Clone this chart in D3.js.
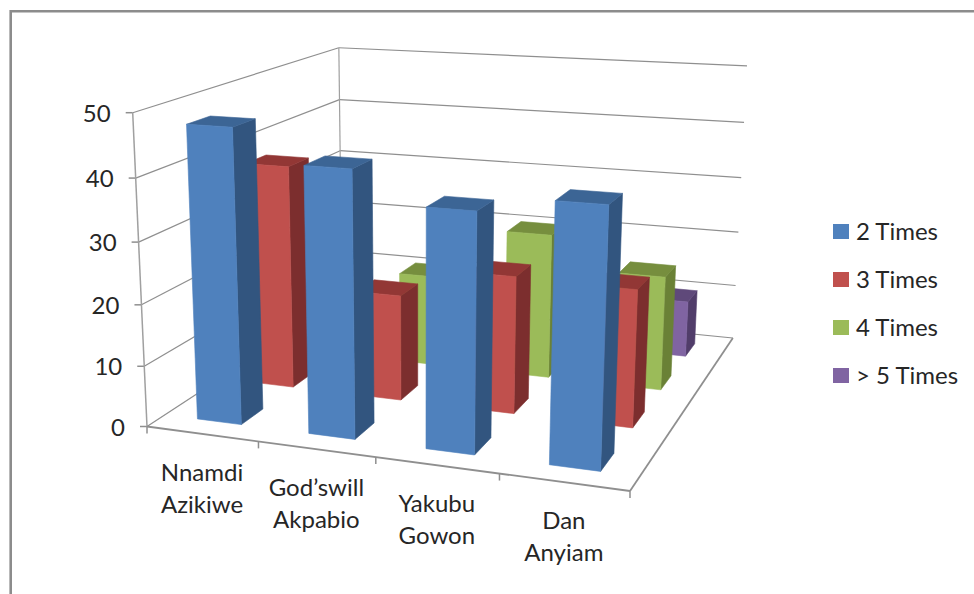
<!DOCTYPE html>
<html>
<head>
<meta charset="utf-8">
<style>
  html, body { margin: 0; padding: 0; background: #fff; }
  svg { display: block; }
  text { font-family: Lato, "Open Sans", sans-serif; fill: #262626; }
</style>
</head>
<body>
<svg id="plot" width="974" height="594"></svg>
<script src="https://cdn.jsdelivr.net/npm/d3@7"></script>
<script>
const categories = [['Nnamdi', 'Azikiwe'], ['God’swill', 'Akpabio'], ['Yakubu', 'Gowon'], ['Dan', 'Anyiam']]
const seriesNames = ['2 Times', '3 Times', '4 Times', '> 5 Times']
const twoTimes = [47.6, 42.5, 37.6, 40]
const threeTimes = [37.8, 17.8, 22.8, 22.5]
const fourTimes = [0, 15.9, 25, 19.5]
const fiveTimes = [0, 0, 0, 10]
const yTicks = [0, 10, 20, 30, 40, 50]
const frontColors = ['#4f81bd', '#c0504d', '#9bbb59', '#8064a2']
const sideColors = ['#32557f', '#7c2e2e', '#6a8136', '#513d6a']
const topColors = ['#3c6595', '#923735', '#768e3e', '#5f497a']

const seriesValues = [twoTimes, threeTimes, fourTimes, fiveTimes]

const svg = d3.select('#plot')
    , catIndex = d3.range(categories.length)
    , serIndex = d3.range(seriesNames.length)
    // unit cube scales, gap width and gap depth of 150%
    , scaleX = d3.scaleBand().domain(catIndex).range([0, 1]).paddingInner(0.6).paddingOuter(0.3)
    , scaleZ = d3.scaleBand().domain(serIndex).range([0, 1]).paddingInner(0.6).paddingOuter(0.3)
    , scaleY = d3.scaleLinear().domain([0, 50]).range([0, 1])
    // corners of the plot box on screen and the perspective weights of each axis
    , origin = [147, 426.5]
    , xEnd = [630, 491]
    , yEnd = [132.7, 112.7]
    , zEnd = [342, 299]
    , persp = { x: -0.0999, y: -0.05, z: 0.262 }
    , project = (x, y, z) => {
        const w = 1 + persp.x * x + persp.y * y + persp.z * z
        return [0, 1].map(i => (origin[i]
            + x * (xEnd[i] * (1 + persp.x) - origin[i])
            + y * (yEnd[i] * (1 + persp.y) - origin[i])
            + z * (zEnd[i] * (1 + persp.z) - origin[i])) / w)
    }
    , stepX = scaleX.step()

const drawLine = (a, b, width = 1.2, color = '#8f8f8f') =>
    svg.append('line')
        .attr('x1', a[0]).attr('y1', a[1])
        .attr('x2', b[0]).attr('y2', b[1])
        .attr('stroke', color)
        .attr('stroke-width', width)

// chart frame, runs off the right and bottom of the page
svg.append('path')
    .attr('d', 'M10.7,594V11.3H974')
    .attr('fill', 'none')
    .attr('stroke', '#8c8c8c')
    .attr('stroke-width', 2.6)

// walls
yTicks.forEach(t => {
    const y = scaleY(t)
    drawLine(project(0, y, 0), project(0, y, 1))
    drawLine(project(0, y, 1), project(1, y, 1))
    const p = project(0, y, 0)
    drawLine([p[0] - 7, p[1]], p, 1.5)
})
drawLine(project(0, 0, 0), project(0, 1, 0), 1.5, '#a0a0a0')
drawLine(project(0, 0, 1), project(0, 1, 1), 1.2, '#a0a0a0')

// floor edges
drawLine(project(0, 0, 0), project(1, 0, 0), 1.8)
drawLine(project(1, 0, 0), project(1, 0, 1), 1.8)

d3.range(0, categories.length + 1).forEach(i => {
    const p = project(i / categories.length, 0, 0)
    drawLine(p, [p[0], p[1] + 7], 1.5)
})

// bars, back row first so the front rows paint over them
const bars = serIndex.slice().reverse().flatMap(s =>
    catIndex.filter(c => seriesValues[s][c] > 0).map(c => ({ s, c, v: seriesValues[s][c] })))

const faces = d => {
    const x0 = scaleX(d.c), x1 = x0 + scaleX.bandwidth()
        , z0 = scaleZ(d.s), z1 = z0 + scaleZ.bandwidth()
        , y = scaleY(d.v)
    return [
        { fill: sideColors[d.s], pts: [[x1, 0, z0], [x1, 0, z1], [x1, y, z1], [x1, y, z0]] },
        { fill: topColors[d.s], pts: [[x0, y, z0], [x1, y, z0], [x1, y, z1], [x0, y, z1]] },
        { fill: frontColors[d.s], pts: [[x0, 0, z0], [x1, 0, z0], [x1, y, z0], [x0, y, z0]] }
    ]
}

// thin same-colour stroke closes the seams between faces
svg.append('g').selectAll('g')
    .data(bars)
    .join('g')
    .selectAll('polygon')
    .data(faces)
    .join('polygon')
    .attr('points', d => d.pts.map(p => project(...p).join(',')).join(' '))
    .attr('fill', d => d.fill)
    .attr('stroke', d => d.fill)
    .attr('stroke-width', 0.6)
    .attr('stroke-linejoin', 'round')

// value axis labels
svg.append('g').selectAll('text')
    .data(yTicks)
    .join('text')
    .attr('x', d => project(0, scaleY(d), 0)[0] - 22)
    .attr('y', d => project(0, scaleY(d), 0)[1] + 9)
    .attr('text-anchor', 'end')
    .attr('font-size', 24)
    .text(d => d)

// category labels, two lines under each tick span
const catLabels = svg.append('g').selectAll('text')
    .data(catIndex)
    .join('text')
    .attr('text-anchor', 'middle')
    .attr('font-size', 24)
    .attr('transform', d => {
        const p = project((d + 0.5) * stepX, 0, 0)
        return `translate(${[p[0], p[1] + 47]})`
    })
catLabels.selectAll('tspan')
    .data(d => categories[d])
    .join('tspan')
    .attr('x', 0)
    .attr('y', (d, i) => i * 32)
    .text(d => d)

// legend
const legendY = d3.scalePoint().domain(serIndex).range([224, 368])
const legend = svg.append('g').selectAll('g')
    .data(serIndex)
    .join('g')
    .attr('transform', d => `translate(833,${legendY(d)})`)
legend.append('rect')
    .attr('width', 16)
    .attr('height', 15)
    .attr('fill', d => frontColors[d])
legend.append('text')
    .attr('x', 23)
    .attr('y', 16)
    .attr('font-size', 24)
    .text(d => seriesNames[d])
</script>
</body>
</html>
